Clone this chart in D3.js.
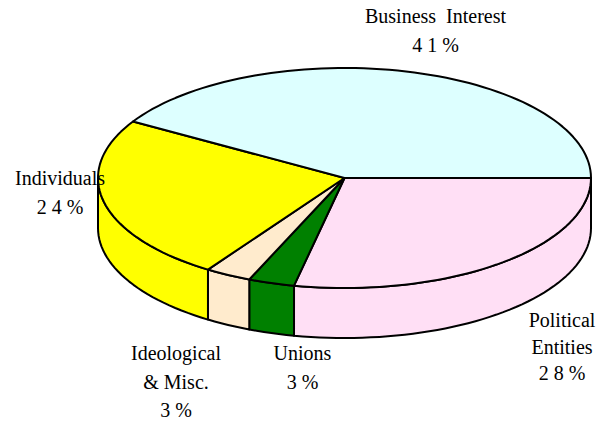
<!DOCTYPE html>
<html>
<head>
<meta charset="utf-8">
<script src="https://cdn.jsdelivr.net/npm/d3@7"></script>
</head>
<body style="margin:0">
<svg id="chart" width="607" height="424"></svg>
<script>
// ---- data (drawing order: clockwise from 3 o'clock) ----
const categories = ["Political Entities", "Unions", "Ideological & Misc.", "Individuals", "Business Interest"];
const values = [28, 3, 3, 24, 41];
const colors = ["#ffdff5", "#008000", "#ffebcd", "#ffff00", "#ddffff"];
const labelLines = [
  ["Political", "Entities"],
  ["Unions"],
  ["Ideological", "& Misc."],
  ["Individuals"],
  ["Business  Interest"]
];

// ---- layout ----
const W = 607, H = 424;
const cx = 344.5, cy = 178, rx = 246.5, ry = 110, depth = 50;
const FONT = "Liberation Serif";
const FS = 20;

const svg = d3.select("#chart");

const pie = d3.pie().sort(null).value(d => d)
  .startAngle(Math.PI / 2).endAngle(Math.PI / 2 + 2 * Math.PI);
const arcs = pie(values).map((a, i) => ({
  i,
  t0: a.startAngle - Math.PI / 2,
  t1: a.endAngle - Math.PI / 2
}));

const ex = t => cx + rx * Math.cos(t);
const ey = (t, dz = 0) => cy + ry * Math.sin(t) + dz;

function arcPoints(t0, t1, dz) {
  const n = Math.max(2, Math.ceil(Math.abs(t1 - t0) / (Math.PI / 90)));
  return d3.range(n + 1).map(k => {
    const t = t0 + (t1 - t0) * k / n;
    return [ex(t), ey(t, dz)];
  });
}

const line = d3.line();

// side walls (front half only: t in [0, PI])
const sides = svg.append("g");
arcs.forEach(a => {
  const s0 = Math.max(a.t0, 0), s1 = Math.min(a.t1, Math.PI);
  if (s1 <= s0) return;
  const pts = arcPoints(s0, s1, 0).concat(arcPoints(s1, s0, depth));
  sides.append("path")
    .attr("d", line(pts) + "Z")
    .attr("fill", colors[a.i])
    .attr("stroke", "#000")
    .attr("stroke-width", 2)
    .attr("stroke-linejoin", "round");
});

// top faces
const tops = svg.append("g");
arcs.forEach(a => {
  const pts = [[cx, cy]].concat(arcPoints(a.t0, a.t1, 0));
  tops.append("path")
    .attr("d", line(pts) + "Z")
    .attr("fill", colors[a.i])
    .attr("stroke", "#000")
    .attr("stroke-width", 2)
    .attr("stroke-linejoin", "round");
});

// percentage text as printed in the reference (spaced characters)
const pctText = v => Array.from(String(v)).join(" ") + " %";

// labels: centre x, first baseline, line step
const labelPos = [
  { x: 562, y: 327, dy: 26.5 },
  { x: 302.5, y: 360, dy: 28.5 },
  { x: 176, y: 360, dy: 28.5 },
  { x: 60,  y: 185, dy: 28.5 },
  { x: 435.5, y: 23, dy: 29 }
];
const labels = svg.append("g");
arcs.forEach(a => {
  const p = labelPos[a.i];
  const lines = labelLines[a.i];
  lines.forEach((s, k) => {
    labels.append("text")
      .attr("x", p.x).attr("y", p.y + k * p.dy)
      .attr("text-anchor", "middle")
      .attr("font-family", FONT)
      .attr("font-size", FS)
      .style("white-space", "pre")
      .text(s);
  });
  labels.append("text")
    .attr("x", p.x).attr("y", p.y + lines.length * p.dy)
    .attr("text-anchor", "middle")
    .attr("font-family", FONT)
    .attr("font-size", FS)
    .style("white-space", "pre")
    .text(pctText(values[a.i]));
});
</script>
</body>
</html>
